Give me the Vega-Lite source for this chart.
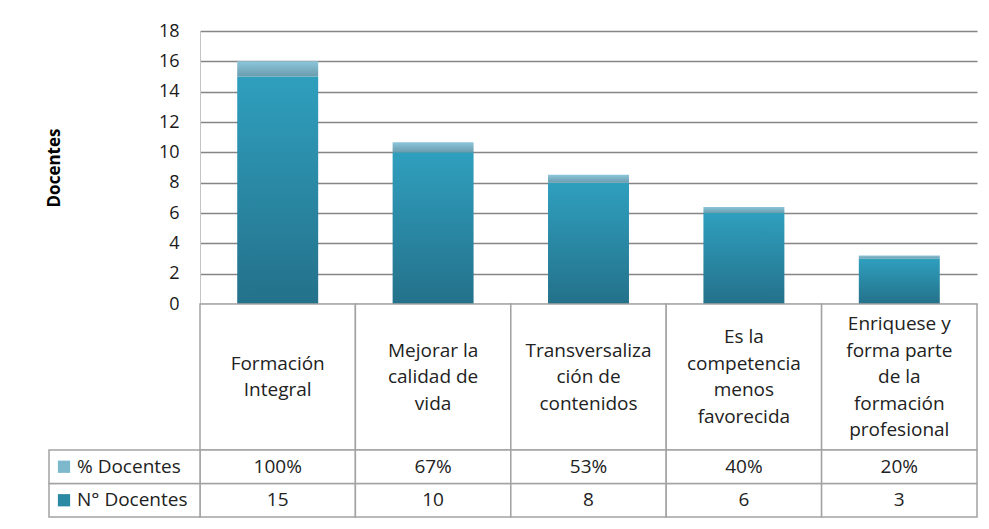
{
  "$schema": "https://vega.github.io/schema/vega-lite/v6.json",
  "padding": {"left": 45, "top": 22, "right": 8, "bottom": 8},
  "background": "white",
  "config": {"view": {"stroke": null}, "font": "Open Sans"},
  "datasets": {
    "d": [
      {"cat": "Formación\nIntegral", "serie": "N° Docentes", "value": 15},
      {"cat": "Formación\nIntegral", "serie": "% Docentes", "value": 1},
      {"cat": "Mejorar la\ncalidad de\nvida", "serie": "N° Docentes", "value": 10},
      {"cat": "Mejorar la\ncalidad de\nvida", "serie": "% Docentes", "value": 0.67},
      {"cat": "Transversaliza\nción de\ncontenidos", "serie": "N° Docentes", "value": 8},
      {"cat": "Transversaliza\nción de\ncontenidos", "serie": "% Docentes", "value": 0.53},
      {"cat": "Es la\ncompetencia\nmenos\nfavorecida", "serie": "N° Docentes", "value": 6},
      {"cat": "Es la\ncompetencia\nmenos\nfavorecida", "serie": "% Docentes", "value": 0.4},
      {"cat": "Enriquese y\nforma parte\nde la\nformación\nprofesional", "serie": "N° Docentes", "value": 3},
      {"cat": "Enriquese y\nforma parte\nde la\nformación\nprofesional", "serie": "% Docentes", "value": 0.2}
    ]
  },
  "data": {"name": "d"},
  "spacing": 0,
  "bounds": "flush",
  "vconcat": [
    {
      "width": 777,
      "height": 273,
      "transform": [
        {"stack": "value", "groupby": ["cat"], "sort": [{"field": "serie", "order": "descending"}], "as": ["y0", "y1"]}
      ],
      "encoding": {
        "x": {"field": "cat", "type": "nominal", "sort": null, "scale": {"paddingInner": 0.479, "paddingOuter": 0.2395}, "axis": null},
        "y": {
          "field": "y1", "type": "quantitative",
          "scale": {"domain": [0, 18]},
          "axis": {
            "title": "Docentes",
            "titleFont": "Open Sans", "titleFontSize": 17, "titleFontWeight": "bold", "titleColor": "#000000",
            "titleX": -137, "titleY": 136.5,
            "values": [0, 2, 4, 6, 8, 10, 12, 14, 16, 18],
            "labelFont": "Open Sans", "labelFontSize": 18, "labelColor": "#1a1a1a", "labelPadding": 21,
            "ticks": false, "tickSize": 0,
            "domainColor": "#c4c4c4", "domainWidth": 1,
            "grid": true, "gridColor": "#858585", "gridWidth": 1.3
          }
        },
        "y2": {"field": "y0"}
      },
      "layer": [
        {
          "transform": [{"filter": "datum.serie === 'N° Docentes'"}],
          "mark": {"type": "bar", "color": {"gradient": "linear", "x1": 0, "y1": 0, "x2": 0, "y2": 1, "stops": [{"offset": 0, "color": "#2f9fbe"}, {"offset": 1, "color": "#24718a"}]}}
        },
        {
          "transform": [{"filter": "datum.serie === '% Docentes'"}],
          "mark": {"type": "bar", "color": {"gradient": "linear", "x1": 0, "y1": 0, "x2": 0, "y2": 1, "stops": [{"offset": 0, "color": "#8cc6db"}, {"offset": 1, "color": "#6a9cad"}]}}
        }
      ]
    },
    {
      "width": 777,
      "height": 146,
      "transform": [{"filter": "datum.serie === 'N° Docentes'"}],
      "encoding": {
        "x": {"field": "cat", "type": "nominal", "sort": null, "scale": {"paddingInner": 0, "paddingOuter": 0}, "axis": null}
      },
      "layer": [
        {"mark": {"type": "rect", "fill": "white", "stroke": "#a3a3a3", "strokeWidth": 1.5}},
        {
          "mark": {
            "type": "text", "lineBreak": "\n", "lineHeight": 26.5, "fontSize": 19, "color": "#222222",
            "baseline": "middle", "font": "Open Sans",
            "dy": {"expr": "-(split(datum.cat, '\\n').length - 1) * 13.25"}
          },
          "encoding": {"text": {"field": "cat"}}
        }
      ]
    },
    {
      "width": 777,
      "height": 67,
      "resolve": {"scale": {"x": "independent"}},
      "layer": [
        {
          "encoding": {
            "x": {"field": "cat", "type": "nominal", "sort": null, "scale": {"paddingInner": 0, "paddingOuter": 0}, "axis": null},
            "y": {"field": "serie", "type": "nominal", "scale": {"domain": ["% Docentes", "N° Docentes"], "paddingInner": 0, "paddingOuter": 0}, "axis": null}
          },
          "layer": [
            {"mark": {"type": "rect", "fill": "white", "stroke": "#a3a3a3", "strokeWidth": 1.5}},
            {
              "transform": [{"filter": "datum.serie === '% Docentes'"}],
              "mark": {"type": "text", "fontSize": 19, "color": "#222222", "font": "Open Sans"},
              "encoding": {"text": {"field": "value", "format": ".0%"}}
            },
            {
              "transform": [{"filter": "datum.serie === 'N° Docentes'"}],
              "mark": {"type": "text", "fontSize": 19, "color": "#222222", "font": "Open Sans"},
              "encoding": {"text": {"field": "value", "format": "d"}}
            }
          ]
        },
        {
          "transform": [{"aggregate": [{"op": "count", "as": "n"}], "groupby": ["serie"]}],
          "encoding": {
            "x": {"datum": "leyenda", "type": "nominal", "scale": {"domain": ["leyenda"], "range": [-151, 0], "paddingInner": 0, "paddingOuter": 0}, "axis": null},
            "y": {"field": "serie", "type": "nominal", "axis": null}
          },
          "layer": [
            {"mark": {"type": "rect", "fill": "white", "stroke": "#a3a3a3", "strokeWidth": 1.5}},
            {
              "mark": {"type": "point", "shape": "square", "filled": true, "size": 150, "xOffset": 15, "opacity": 1},
              "encoding": {
                "x": {"datum": "leyenda", "type": "nominal", "bandPosition": 0, "scale": {"domain": ["leyenda"], "range": [-151, 0], "paddingInner": 0, "paddingOuter": 0}, "axis": null},
                "color": {"field": "serie", "type": "nominal", "scale": {"domain": ["% Docentes", "N° Docentes"], "range": ["#7db8cc", "#2a88a3"]}, "legend": null}
              }
            },
            {
              "mark": {"type": "text", "align": "left", "dx": 28, "fontSize": 19, "color": "#222222", "font": "Open Sans"},
              "encoding": {
                "x": {"datum": "leyenda", "type": "nominal", "bandPosition": 0, "scale": {"domain": ["leyenda"], "range": [-151, 0], "paddingInner": 0, "paddingOuter": 0}, "axis": null},
                "text": {"field": "serie"}
              }
            }
          ]
        }
      ]
    }
  ]
}
